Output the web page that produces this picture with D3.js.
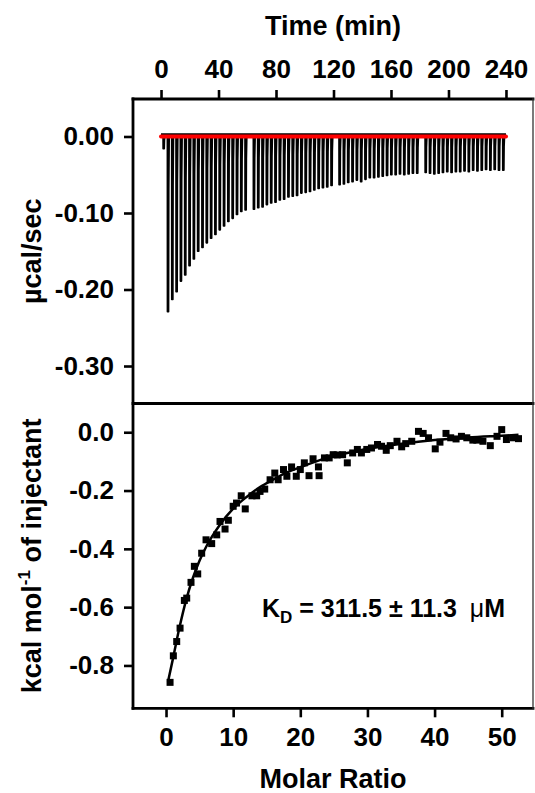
<!DOCTYPE html>
<style>
body { margin: 0; background: #fff; }
text { font-family: "Liberation Sans", Arial, sans-serif; font-weight: bold; fill: #000; }
.axis text { font-size: 26px; }
.axis line { stroke: #000; stroke-width: 2.6px; }
.spike { fill: #000; stroke: #000; stroke-width: 1.6px; stroke-linejoin: round; }
.fit { fill: none; stroke: #000; stroke-width: 2.5px; }
</style>
<body>
<script src="https://d3js.org/d3.v7.min.js"></script>
<script>
var width = 535;
var height = 793;

// raw thermogram: injection times (min) and peak minima (ucal/sec)
var injTime = [1.4,
  4.4, 7.4, 10.4, 13.4, 16.4, 19.4, 22.4, 25.4, 28.4, 31.4, 34.4, 37.4, 40.4, 43.4, 46.4, 49.4, 52.4, 55.4, 58.4,
  64.2, 67.2, 70.2, 73.2, 76.2, 79.2, 82.2, 85.2, 88.2, 91.2, 94.2, 97.2, 100.2, 103.2, 106.2, 109.2, 112.2, 115.2, 118.2,
  123.8, 126.8, 129.8, 132.8, 135.8, 138.8, 141.8, 144.8, 147.8, 150.8, 153.8, 156.8, 159.8, 162.8, 165.8, 168.8, 171.8, 174.8, 177.8,
  183.7, 186.7, 189.7, 192.7, 195.7, 198.7, 201.7, 204.7, 207.7, 210.7, 213.7, 216.7, 219.7, 222.7, 225.7, 228.7, 231.7, 234.7, 237.7];
var injPeak = [-0.016,
  -0.229, -0.213, -0.203, -0.189, -0.181, -0.169, -0.160, -0.150, -0.145, -0.139, -0.133, -0.128, -0.122, -0.117, -0.111, -0.107, -0.102, -0.098, -0.096,
  -0.095, -0.093, -0.092, -0.089, -0.087, -0.086, -0.083, -0.082, -0.079, -0.078, -0.077, -0.074, -0.073, -0.072, -0.070, -0.068, -0.067, -0.066, -0.064,
  -0.063, -0.062, -0.060, -0.059, -0.057, -0.059, -0.056, -0.054, -0.054, -0.053, -0.052, -0.051, -0.050, -0.050, -0.049, -0.050, -0.049, -0.048, -0.048,
  -0.047, -0.048, -0.049, -0.048, -0.047, -0.046, -0.047, -0.046, -0.046, -0.045, -0.046, -0.044, -0.045, -0.044, -0.043, -0.044, -0.043, -0.044, -0.044];
var baselineTime = [0, 240];

// integrated heats
var molarRatio = [0.6, 1.09, 1.59, 2.09, 2.73, 3.08, 3.72, 4.22, 4.72, 5.31, 5.96, 6.8, 7.55, 8.04, 8.79, 9.28,
  10.0, 10.5, 11.2, 11.8, 12.8, 13.5, 14.0, 14.7, 15.5, 16.2, 16.7, 17.5, 18.0, 18.7, 19.4, 20.0, 20.6, 21.3,
  21.9, 22.7, 22.8, 23.6, 24.3, 24.9, 25.5, 26.3, 27.0, 27.8, 28.5, 29.1, 29.9, 30.6, 31.5, 32.1, 32.8, 33.4,
  34.4, 35.1, 35.7, 36.6, 37.6, 38.3, 39.1, 40.1, 40.8, 41.7, 42.4, 43.2, 44.0, 44.8, 45.7, 46.3, 47.2, 48.3,
  49.3, 50.0, 50.7, 51.7, 52.5];
var heat = [-0.858, -0.767, -0.718, -0.672, -0.577, -0.569, -0.515, -0.460, -0.486, -0.415, -0.369, -0.382, -0.352, -0.306, -0.332, -0.302,
  -0.254, -0.243, -0.218, -0.263, -0.218, -0.218, -0.203, -0.195, -0.163, -0.140, -0.163, -0.128, -0.151, -0.119, -0.151, -0.128, -0.105, -0.149,
  -0.091, -0.119, -0.149, -0.088, -0.088, -0.077, -0.078, -0.077, -0.105, -0.071, -0.059, -0.071, -0.059, -0.054, -0.042, -0.048, -0.062, -0.046,
  -0.031, -0.050, -0.039, -0.031, 0.003, -0.004, -0.019, -0.057, -0.034, -0.004, -0.019, -0.023, -0.014, -0.019, -0.027, -0.027, -0.031, -0.046,
  -0.014, 0.009, -0.025, -0.019, -0.022];

// one-site fit
var fitRatio = [0.3, 1, 2, 3, 4, 5, 6, 8, 10, 12, 14, 16, 18, 20, 24, 28, 32, 36, 40, 45, 50, 52.5];
var fitHeat = [-0.855, -0.78, -0.67, -0.575, -0.5, -0.44, -0.392, -0.318, -0.262, -0.222, -0.188, -0.162, -0.138, -0.12, -0.088, -0.066, -0.05, -0.037, -0.027, -0.018, -0.012, -0.009];

var timeTicks = [0, 40, 80, 120, 160, 200, 240];
var rateTicks = [0, -0.1, -0.2, -0.3];
var rateLabels = ["0.00", "-0.10", "-0.20", "-0.30"];
var ratioTicks = [0, 10, 20, 30, 40, 50];
var heatTicks = [0, -0.2, -0.4, -0.6, -0.8];
var heatLabels = ["0.0", "-0.2", "-0.4", "-0.6", "-0.8"];

var left = 133, right = 533, top1 = 99, mid = 403.5, bottom2 = 708.3;

var svg = d3.select("body")
            .append("svg")
            .attr("width", width)
            .attr("height", height);

var x1 = d3.scaleLinear().domain([-19.5, 258.8]).range([left, right]);
var y1 = d3.scaleLinear().domain([-0.349, 0.049]).range([mid, top1]);
var x2 = d3.scaleLinear().domain([-4.92, 54.66]).range([left, right]);
var y2 = d3.scaleLinear().domain([-0.947, 0.0986]).range([bottom2, mid]);

// ---- top panel ----
var spikeLine = d3.line()
  .x(function(d) { return x1(d[0]); })
  .y(function(d) { return y1(d[1]); });

svg.append("g")
   .selectAll("path")
   .data(injTime)
   .enter()
   .append("path")
   .attr("class", "spike")
   .attr("d", function(t, i) {
     var p = injPeak[i];
     return spikeLine([[t, 0], [t + 0.05, p], [t + 0.85, p], [t + 1.0, p * 0.3], [t + 1.3, 0]]);
   });

// black raw trace just above the red baseline
svg.append("path")
   .datum(baselineTime)
   .attr("fill", "none")
   .attr("stroke", "#000")
   .attr("stroke-width", 2.5)
   .attr("d", d3.line().x(function(d) { return x1(d); }).y(function(d) { return y1(0) - 2; }));

svg.append("path")
   .datum(baselineTime)
   .attr("fill", "none")
   .attr("stroke", "#f00")
   .attr("stroke-width", 4)
   .attr("stroke-linecap", "round")
   .attr("d", d3.line().x(function(d) { return x1(d); }).y(function(d) { return y1(0); }));

svg.append("g")
   .attr("class", "axis")
   .attr("transform", "translate(0," + top1 + ")")
   .call(d3.axisTop(x1).tickValues(timeTicks).tickSize(9).tickPadding(12))
   .select(".domain").remove();

svg.append("g")
   .attr("class", "axis")
   .attr("transform", "translate(" + left + ",0)")
   .call(d3.axisLeft(y1).tickValues(rateTicks).tickSize(9).tickPadding(10)
     .tickFormat(function(d, i) { return rateLabels[i]; }))
   .select(".domain").remove();

// ---- bottom panel ----
svg.append("path")
   .datum(fitRatio)
   .attr("class", "fit")
   .attr("d", d3.line()
     .curve(d3.curveMonotoneX)
     .x(function(d) { return x2(d); })
     .y(function(d, i) { return y2(fitHeat[i]); }));

svg.append("g")
   .selectAll("rect")
   .data(molarRatio)
   .enter()
   .append("rect")
   .attr("x", function(d) { return x2(d) - 3.5; })
   .attr("y", function(d, i) { return y2(heat[i]) - 3.5; })
   .attr("width", 7)
   .attr("height", 7)
   .attr("fill", "#000");

svg.append("g")
   .attr("class", "axis")
   .attr("transform", "translate(0," + bottom2 + ")")
   .call(d3.axisBottom(x2).tickValues(ratioTicks).tickSize(9).tickPadding(10))
   .select(".domain").remove();

svg.append("g")
   .attr("class", "axis")
   .attr("transform", "translate(" + left + ",0)")
   .call(d3.axisLeft(y2).tickValues(heatTicks).tickSize(9).tickPadding(10)
     .tickFormat(function(d, i) { return heatLabels[i]; }))
   .select(".domain").remove();

// ---- frames ----
var frame = svg.append("g").attr("stroke", "#000").attr("stroke-linecap", "square");
frame.append("line").attr("x1", left).attr("x2", right).attr("y1", top1).attr("y2", top1).attr("stroke-width", 2.8);
frame.append("line").attr("x1", left).attr("x2", right).attr("y1", mid).attr("y2", mid).attr("stroke-width", 2.8);
frame.append("line").attr("x1", left).attr("x2", right).attr("y1", bottom2).attr("y2", bottom2).attr("stroke-width", 2.8);
frame.append("line").attr("x1", left).attr("x2", left).attr("y1", top1).attr("y2", bottom2).attr("stroke-width", 2.8);
frame.append("line").attr("x1", right).attr("x2", right).attr("y1", top1).attr("y2", bottom2).attr("stroke-width", 1.3).attr("stroke", "#333");

// ---- titles ----
svg.append("text")
   .attr("x", (left + right) / 2)
   .attr("y", 35)
   .attr("text-anchor", "middle")
   .attr("font-size", 27)
   .text("Time (min)");

svg.append("text")
   .attr("x", (left + right) / 2)
   .attr("y", 788)
   .attr("text-anchor", "middle")
   .attr("font-size", 27)
   .text("Molar Ratio");

svg.append("text")
   .attr("transform", "translate(41," + (top1 + mid) / 2 + ") rotate(-90)")
   .attr("text-anchor", "middle")
   .attr("font-size", 27)
   .text("\u00b5cal/sec");

var ylab = svg.append("text")
   .attr("transform", "translate(41," + (mid + bottom2) / 2 + ") rotate(-90)")
   .attr("text-anchor", "middle")
   .attr("font-size", 27);
ylab.append("tspan").text("kcal mol");
ylab.append("tspan").attr("font-size", 17).attr("dy", -11).text("-1");
ylab.append("tspan").attr("dy", 11).text(" of injectant");

var kd = svg.append("text")
   .attr("x", 262)
   .attr("y", 617)
   .attr("font-size", 25);
kd.append("tspan").text("K");
kd.append("tspan").attr("font-size", 17).attr("dy", 6).text("D");
kd.append("tspan").attr("dy", -6).text(" = 311.5 \u00b1 11.3 ");
kd.append("tspan").attr("font-weight", "normal").attr("dx", 6).text("\u03bc");
kd.append("tspan").text("M");
</script>
</body>
